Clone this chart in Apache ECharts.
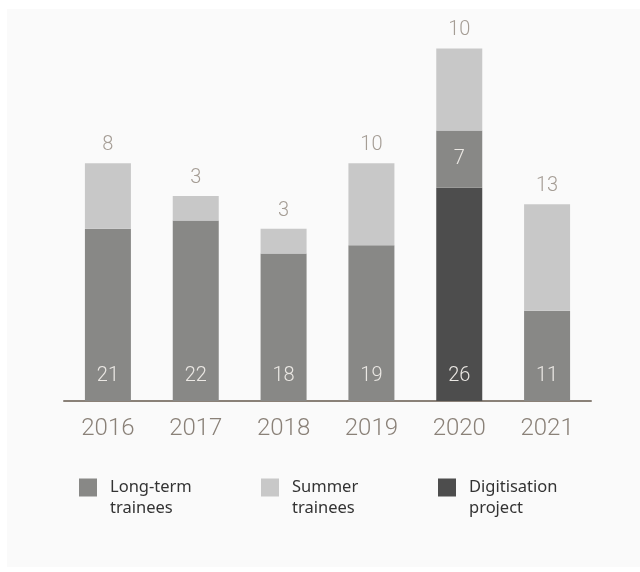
<!DOCTYPE html>
<html>
<head>
<meta charset="utf-8">
<script src="https://cdn.jsdelivr.net/npm/echarts@6/dist/echarts.min.js"></script>
<style>
  html, body { margin: 0; padding: 0; background: #ffffff; }
  #chart { width: 640px; height: 572px; }
</style>
</head>
<body>
<div id="chart"></div>
<script>
// Trainees per year, stacked by programme
var years = ['2016', '2017', '2018', '2019', '2020', '2021'];
var digitisation = [null, null, null, null, 26, null];
var longTerm = [21, 22, 18, 19, 7, 11];
var summer = [8, 3, 3, 10, 10, 13];

var FONT = 'Roboto';
var C_LONG = '#888886';
var C_SUMMER = '#c8c8c8';
var C_DIGI = '#4d4d4d';
var C_INSIDE = '#ebe8e4';
var C_TOP = '#a59d95';
var C_AXIS = '#8a8178';

var insideBottomLabel = {
  show: true, position: 'insideBottom', distance: 15,
  color: C_INSIDE, fontFamily: FONT, fontWeight: 300, fontSize: 20
};

// Long-term segment sits above the digitisation block where one exists,
// so its label is centred in the segment there instead of at the base.
var longTermData = longTerm.map(function (v, i) {
  if (digitisation[i] != null) {
    return { value: v, label: { position: 'inside', distance: 0 } };
  }
  return v;
});

// Legend entries: swatch level with the first line of a two-line caption.
var legendText = {
  color: '#333333', fontFamily: 'Noto Sans', fontSize: 16.5, lineHeight: 21,
  padding: [0, 0, 0, 8]
};
function legendAt(name, left) {
  return {
    data: [name], left: left, top: 456, padding: 0,
    itemWidth: 18, itemHeight: 18,
    icon: 'rect', selectedMode: false, textStyle: legendText,
    formatter: function (n) { return '\n' + n; }
  };
}

var chart = echarts.init(document.getElementById('chart'), null, { renderer: 'canvas' });
chart.setOption({
  backgroundColor: '#ffffff',
  animation: false,
  graphic: [{
    type: 'rect', z: -10, silent: true,
    shape: { x: 7, y: 9, width: 633, height: 558 },
    style: { fill: '#fafafa' }
  }],
  grid: { left: 64, right: 49, top: 32, bottom: 171 },
  legend: [
    legendAt('Long-term\ntrainees', 79),
    legendAt('Summer\ntrainees', 261),
    legendAt('Digitisation\nproject', 438)
  ],
  xAxis: {
    type: 'category', data: years,
    axisLine: { lineStyle: { color: C_AXIS, width: 2 } },
    axisTick: { show: false },
    axisLabel: { color: C_AXIS, fontFamily: FONT, fontWeight: 300, fontSize: 24, margin: 16 }
  },
  yAxis: {
    type: 'value', min: 0, max: 45, show: false,
    splitLine: { show: false }
  },
  series: [
    {
      name: 'Digitisation\nproject', type: 'bar', stack: 'total', barWidth: 46,
      data: digitisation, itemStyle: { color: C_DIGI },
      label: insideBottomLabel
    },
    {
      name: 'Long-term\ntrainees', type: 'bar', stack: 'total', barWidth: 46,
      data: longTermData, itemStyle: { color: C_LONG },
      label: insideBottomLabel
    },
    {
      name: 'Summer\ntrainees', type: 'bar', stack: 'total', barWidth: 46,
      data: summer, itemStyle: { color: C_SUMMER },
      label: {
        show: true, position: 'top', distance: 8,
        color: C_TOP, fontFamily: FONT, fontWeight: 300, fontSize: 20
      }
    }
  ]
});
</script>
</body>
</html>
